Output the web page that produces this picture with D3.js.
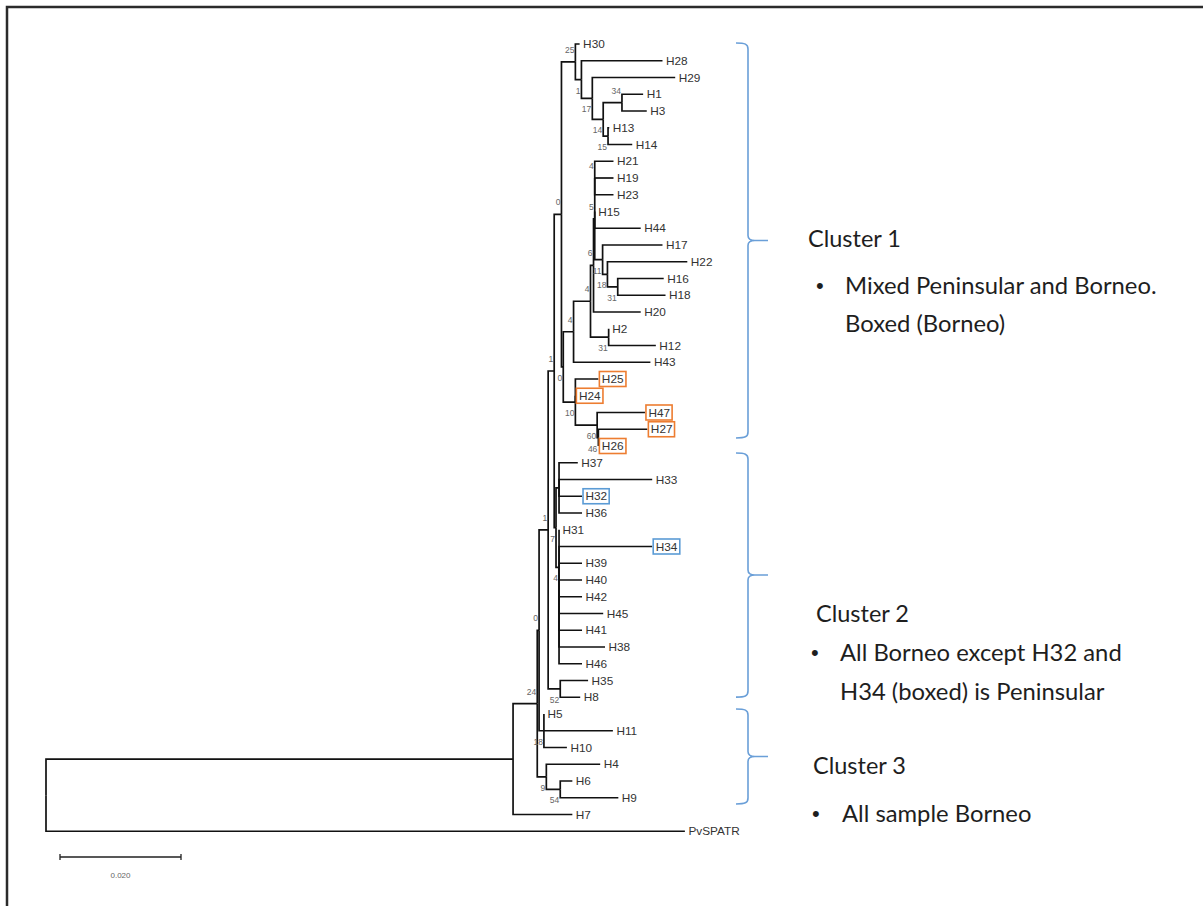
<!DOCTYPE html>
<html><head><meta charset="utf-8">
<script src="https://cdn.jsdelivr.net/npm/d3@7"></script>
<style>html,body{margin:0;padding:0;background:#fff;} svg{display:block;}</style>
</head><body>
<svg id="chart" width="1203" height="906"></svg>
<script>
// Tree edges: [node, parent, branch length]
const edges = [
  ["root", "", 0],
  ["I", "root", 0.0772],
  ["N24", "I", 0.0040],
  ["N0", "N24", 0.0003],
  ["N1c", "N0", 0.0015],
  ["N1b", "N1c", 0.0010],
  ["N0b", "N1b", 0.0012],
  ["N25", "N0b", 0.0023],
  ["H30", "N25", 0.0007],
  ["N1a", "N25", 0.0010],
  ["H28", "N1a", 0.0134],
  ["N17", "N1a", 0.0018],
  ["H29", "N17", 0.0137],
  ["N14", "N17", 0.0018],
  ["N34", "N14", 0.0031],
  ["H1", "N34", 0.0035],
  ["H3", "N34", 0.0041],
  ["N15", "N14", 0.0008],
  ["H13", "N15", 0.0002],
  ["H14", "N15", 0.0040],
  ["P", "N0b", 0.0003],
  ["N4a", "P", 0.0017],
  ["N4b", "N4a", 0.0028],
  ["U", "N4b", 0.0005],
  ["A5", "U", 0.0002],
  ["A4", "A5", 0],
  ["H21", "A4", 0.0031],
  ["H19", "A4", 0.0031],
  ["H23", "A4", 0.0031],
  ["H15", "A5", 0],
  ["H44", "A5", 0.0076],
  ["R", "A5", 0.0013],
  ["H17", "R", 0.0099],
  ["S", "R", 0.0008],
  ["H22", "S", 0.0132],
  ["N31", "S", 0.0017],
  ["H16", "N31", 0.0076],
  ["H18", "N31", 0.0079],
  ["H20", "U", 0.0078],
  ["N31b", "N4b", 0.0030],
  ["H2", "N31b", 0],
  ["H12", "N31b", 0.0078],
  ["H43", "N4a", 0.0127],
  ["NB", "P", 0.0020],
  ["H25", "NB", 0.0038],
  ["H24", "NB", 0],
  ["N10", "NB", 0.0036],
  ["H47", "N10", 0.0079],
  ["N60", "N10", 0.0002],
  ["H27", "N60", 0.0081],
  ["H26", "N60", 0],
  ["C2", "N1b", 0.0003],
  ["Ctop", "C2", 0.0005],
  ["H37", "Ctop", 0.0031],
  ["H33", "Ctop", 0.0154],
  ["H32", "Ctop", 0.0038],
  ["H36", "Ctop", 0.0038],
  ["C7", "C2", 0.0005],
  ["H31", "C7", 0],
  ["Cbot", "C7", 0],
  ["H34", "Cbot", 0.0154],
  ["H39", "Cbot", 0.0038],
  ["H40", "Cbot", 0.0038],
  ["H42", "Cbot", 0.0038],
  ["H45", "Cbot", 0.0073],
  ["H41", "Cbot", 0.0038],
  ["H38", "Cbot", 0.0076],
  ["H46", "Cbot", 0.0038],
  ["N52", "N1c", 0.0020],
  ["H35", "N52", 0.0046],
  ["H8", "N52", 0.0033],
  ["N18", "N0", 0.0008],
  ["H5", "N18", 0],
  ["H11", "N18", 0.0114],
  ["H10", "N18", 0.0038],
  ["N9", "N24", 0.0015],
  ["H4", "N9", 0.0089],
  ["N54", "N9", 0.0023],
  ["H6", "N54", 0.0020],
  ["H9", "N54", 0.0096],
  ["H7", "I", 0.0098],
  ["PvSPATR", "root", 0.1056]
];

// Bootstrap support values at internal nodes
const bootstrapNodes = ["N24","N0","N1c","N1b","N0b","N25","N1a","N17","N14","N34","N15","P","N4a","N4b","U","A5","A4","R","S","N31","N31b","NB","N10","N60","C2","C7","N52","N18","N9","N54"];
const bootstrapValues = [24, 0, 1, 1, 0, 25, 1, 17, 14, 34, 15, 0, 4, 4, 6, 5, 4, 11, 18, 31, 31, 10, 60, 46, 7, 4, 52, 18, 9, 54];

const orangeBoxed = ["H25","H24","H47","H27","H26"];
const blueBoxed = ["H32","H34"];

// cluster brace extents, in leaf-row units (0 = first leaf row)
const clusterStart = [-0.06, 24.42, 39.7];
const clusterEnd = [23.52, 38.99, 45.37];
const clusterTitles = ["Cluster 1","Cluster 2","Cluster 3"];
const clusterNotes = [
  ["Mixed Peninsular and Borneo.","Boxed (Borneo)"],
  ["All Borneo except H32 and","H34 (boxed) is Peninsular"],
  ["All sample Borneo"]
];
const scaleBarValue = 0.020;
const scaleBarLabel = "0.020";

const svg = d3.select("#chart");
svg.append("rect").attr("width",1203).attr("height",906).attr("fill","#fff");

// frame
svg.append("path").attr("d","M7,906V7H1203").attr("fill","none").attr("stroke","#2b2b2b").attr("stroke-width",2.5);

const root = d3.stratify().id(d=>d[0]).parentId(d=>d[1]||null)(edges);
root.eachBefore(n => { n.dist = n.parent ? n.parent.dist + n.data[2] : 0; });

const leaves = root.leaves();
const y = d3.scalePoint().domain(leaves.map(d=>d.id)).range([44, 831.25]);
const yRow = d3.scaleLinear().domain([0, leaves.length-1]).range([44, 831.25]);
const x = d3.scaleLinear().domain([0, 0.1]).range([46, 651]);

root.eachAfter(n => {
  if (!n.children) n.y = y(n.id);
  else n.y = (n.children[0].y + n.children[n.children.length-1].y)/2;
  n.x = x(n.dist);
});

const g = svg.append("g");
g.selectAll("path.link").data(root.links()).join("path")
  .attr("class","link")
  .attr("d", l => `M${l.source.x},${l.source.y}V${l.target.y}H${l.target.x}`)
  .attr("fill","none").attr("stroke","#111").attr("stroke-width",1.7);

// leaf labels
const lab = g.selectAll("text.leaf").data(leaves).join("text")
  .attr("class","leaf")
  .attr("x", d => d.x + 3.5)
  .attr("y", d => d.y)
  .attr("dy","0.36em")
  .attr("font-family","'Liberation Sans', Arial, sans-serif")
  .attr("font-size", 11.8)
  .attr("fill","#333")
  .text(d => d.id);

lab.each(function(d){
  const col = orangeBoxed.includes(d.id) ? "#ED7D31" : (blueBoxed.includes(d.id) ? "#5B9BD5" : null);
  if (!col) return;
  const bb = this.getBBox();
  g.append("rect").attr("x", bb.x - 2.5).attr("y", d.y - 7.5)
    .attr("width", bb.width + 4.5).attr("height", 15)
    .attr("fill","none").attr("stroke", col).attr("stroke-width", 1.6);
});

// bootstrap labels
const supp = new Map(bootstrapNodes.map((k,i)=>[k,bootstrapValues[i]]));
const internals = root.descendants().filter(n => supp.has(n.id));
g.selectAll("text.bs").data(internals).join("text")
  .attr("class","bs")
  .attr("x", d => d.x - 1)
  .attr("y", d => (d.parent.children[0] === d) ? d.y - 9 : d.y + 14)
  .attr("text-anchor","end")
  .attr("font-family","'Liberation Sans', Arial, sans-serif")
  .attr("font-size", 8.5)
  .attr("fill","#666")
  .text(d => supp.get(d.id));

// scale bar
const sbX0 = 60, sbY = 857;
const sbX1 = sbX0 + (x(scaleBarValue) - x(0));
svg.append("path").attr("d",`M${sbX0},${sbY}H${sbX1}M${sbX0},${sbY-3}V${sbY+3}M${sbX1},${sbY-3}V${sbY+3}`)
  .attr("stroke","#222").attr("stroke-width",1.3).attr("fill","none");
svg.append("text").attr("x",(sbX0+sbX1)/2).attr("y",sbY+21).attr("text-anchor","middle")
  .attr("font-family","'Liberation Sans', Arial, sans-serif").attr("font-size",8).attr("fill","#666")
  .text(scaleBarLabel);

// cluster braces
const bx0 = 736, bx1 = 748, bx2 = 768;
clusterStart.forEach((s,i) => {
  const y0 = yRow(s), y1 = yRow(clusterEnd[i]), ym = (y0+y1)/2;
  const d = `M${bx0},${y0}C${bx1-3},${y0} ${bx1},${y0+1} ${bx1},${y0+6}` +
            `L${bx1},${ym-5}C${bx1},${ym-1} ${bx1+3},${ym} ${bx1+7},${ym}L${bx2},${ym}` +
            `M${bx1+7},${ym}C${bx1+3},${ym} ${bx1},${ym+1} ${bx1},${ym+5}` +
            `L${bx1},${y1-6}C${bx1},${y1-1} ${bx1-3},${y1} ${bx0},${y1}`;
  svg.append("path").attr("d", d).attr("fill","none").attr("stroke","#6A9FD8").attr("stroke-width",1.6);
});

// cluster texts
const txtFont = "Lato, 'Open Sans', sans-serif";
const titlePos = [[808,239],[816,614],[813,766]];
const bulletPos = [[816,285],[811,652],[812,813]];
const notePos = [[845,285],[840,652],[842,813]];
const lineH = [38, 39, 0];
clusterTitles.forEach((t,i) => {
  svg.append("text").attr("x",titlePos[i][0]).attr("y",titlePos[i][1]).attr("dy","0.36em")
    .attr("font-family",txtFont).attr("font-size",23.5).attr("fill","#1e1e1e").text(t);
  svg.append("text").attr("x",bulletPos[i][0]).attr("y",bulletPos[i][1]).attr("dy","0.36em")
    .attr("font-family","'Liberation Sans', Arial, sans-serif").attr("font-size",22).attr("fill","#1e1e1e").text("•");
  clusterNotes[i].forEach((ln,j) => {
    svg.append("text").attr("x",notePos[i][0]).attr("y",notePos[i][1] + j*lineH[i]).attr("dy","0.36em")
      .attr("font-family",txtFont).attr("font-size",23.8).attr("fill","#1e1e1e").text(ln);
  });
});
</script>
</body></html>
